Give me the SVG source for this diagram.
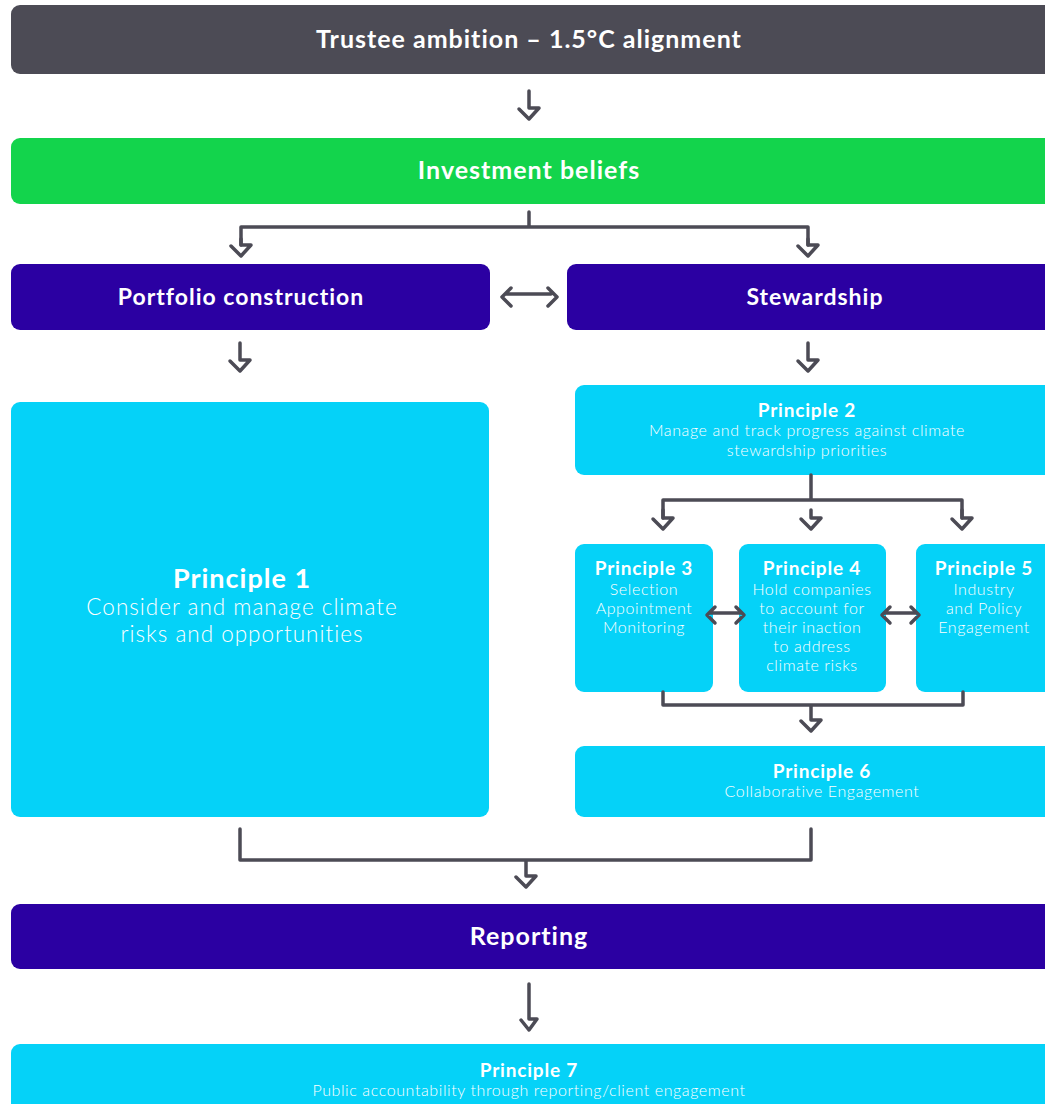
<svg xmlns="http://www.w3.org/2000/svg" width="1045" height="1104" viewBox="0 0 1045 1104">
<style>
.dark{fill:#4c4b55}.green{fill:#13d44c}.purple{fill:#2b00a2}.cyan{fill:#05d2f8}
text{font-family:Lato,"Open Sans","Liberation Sans",sans-serif;fill:#fff;text-anchor:middle}
.h{font-weight:700;font-size:25px;letter-spacing:1px}
.hb{font-weight:700;font-size:23px;letter-spacing:1px}
.t{font-weight:700;font-size:19px;letter-spacing:0.8px}
.d{font-weight:300;font-size:16px;letter-spacing:0.6px}
.t1{font-weight:700;font-size:27px;letter-spacing:1px}
.d1{font-weight:300;font-size:22.5px;letter-spacing:1px}
.c{fill:none;stroke:#4c4b55;stroke-width:3.5;stroke-linejoin:round;stroke-linecap:round}
</style>
<g id="trustee"><rect class="dark" x="11" y="5" width="1060" height="69" rx="9"/><text class="h" x="529" y="48">Trustee ambition – 1.5°C alignment</text></g>
<g id="beliefs"><rect class="green" x="11" y="138" width="1060" height="66" rx="9"/><text class="h" x="529" y="179">Investment beliefs</text></g>
<g id="portfolio"><rect class="purple" x="11" y="264" width="479" height="66" rx="9"/><text class="hb" x="241" y="305">Portfolio construction</text></g>
<g id="stewardship"><rect class="purple" x="567" y="264" width="500" height="66" rx="9"/><text class="hb" x="815" y="305">Stewardship</text></g>
<g id="p1"><rect class="cyan" x="11" y="402" width="478" height="415" rx="9"/><text class="t1" x="242" y="588">Principle 1</text><text class="d1" x="242" y="615">Consider and manage climate</text><text class="d1" x="242" y="642">risks and opportunities</text></g>
<g id="p2"><rect class="cyan" x="575" y="385" width="500" height="90" rx="9"/><text class="t" x="807" y="417">Principle 2</text><text class="d" x="807" y="436">Manage and track progress against climate</text><text class="d" x="807" y="456">stewardship priorities</text></g>
<g id="p3"><rect class="cyan" x="575" y="544" width="138" height="148" rx="9"/><text class="t" x="644" y="575">Principle 3</text><text class="d" x="644" y="595">Selection</text><text class="d" x="644" y="614">Appointment</text><text class="d" x="644" y="633">Monitoring</text></g>
<g id="p4"><rect class="cyan" x="739" y="544" width="147" height="148" rx="9"/><text class="t" x="812" y="575">Principle 4</text><text class="d" x="812" y="595">Hold companies</text><text class="d" x="812" y="614">to account for</text><text class="d" x="812" y="633">their inaction</text><text class="d" x="812" y="652">to address</text><text class="d" x="812" y="671">climate risks</text></g>
<g id="p5"><rect class="cyan" x="916" y="544" width="160" height="148" rx="9"/><text class="t" x="984" y="575">Principle 5</text><text class="d" x="984" y="595">Industry</text><text class="d" x="984" y="614">and Policy</text><text class="d" x="984" y="633">Engagement</text></g>
<g id="p6"><rect class="cyan" x="575" y="746" width="500" height="71" rx="9"/><text class="t" x="822" y="778">Principle 6</text><text class="d" x="822" y="797">Collaborative Engagement</text></g>
<g id="reporting"><rect class="purple" x="11" y="904" width="1060" height="65" rx="9"/><text class="h" x="529" y="945">Reporting</text></g>
<g id="p7"><rect class="cyan" x="11" y="1044" width="1060" height="80" rx="9"/><text class="t" x="529" y="1077">Principle 7</text><text class="d" x="529" y="1096">Public accountability through reporting/client engagement</text></g>
<g id="connectors">
<path class="c" d="M529,91 V108 H539 L529,119 L519,109"/>
<path class="c" d="M529,212 V227 M241,245 V227 H808 V245"/>
<path class="c" d="M241,239 V245 H251 L241,256 L231,246"/>
<path class="c" d="M808,239 V245 H818 L808,256 L798,246"/>
<path class="c" d="M511,288 L502,297 L511,306 M505,294 H551 M548,288 L557,297 L548,306"/>
<path class="c" d="M240,343 V360 H250 L240,371 L230,361"/>
<path class="c" d="M808,343 V360 H818 L808,371 L798,361"/>
<path class="c" d="M811,475 V500 M663,518 V500 H962 V518"/>
<path class="c" d="M663,510 V518 H673 L663,529 L653,519"/>
<path class="c" d="M811,510 V518 H821 L811,529 L801,519"/>
<path class="c" d="M962,510 V518 H972 L962,529 L952,519"/>
<path class="c" d="M715,607 L707,615 L715,623 M710,613 H740 M736,607 L744,615 L736,623"/>
<path class="c" d="M890,607 L882,615 L890,623 M885,613 H915 M911,607 L919,615 L911,623"/>
<path class="c" d="M663,692 V705 H963 V692 M811,705 V720 H821 L811,731 L801,721"/>
<path class="c" d="M240,829 V860 H811 V829 M526,860 V876 H536 L526,887 L516,877"/>
<path class="c" d="M529,984 V1019 H537 L529,1030 L521,1020"/>
</g>
</svg>
